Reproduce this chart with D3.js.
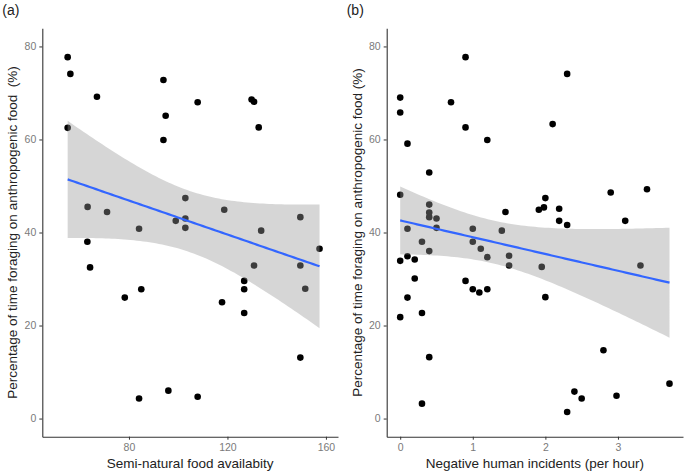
<!DOCTYPE html>
<html><head><meta charset="utf-8">
<script src="https://cdn.jsdelivr.net/npm/d3@7"></script>
<style>
body{margin:0;background:#fff;}
svg{display:block;font-family:"Liberation Sans",Arial,sans-serif;}
</style></head><body>
<svg id="chart" width="685" height="475"></svg>
<script>
// Panel (a): semi-natural food availability vs % time foraging on anthropogenic food
const foodX = [55.1,56.2,67.0,55.1,94.0,94.9,94.0,107.9,129.8,130.8,132.7,63.2,71.1,84.1,99.0,102.9,102.9,102.9,118.7,133.7,149.6,63.1,64.2,78.3,85.0,84.1,96.0,107.9,117.8,126.8,126.8,126.8,130.8,149.6,151.6,157.4,149.6];
const foodY = [77.7,74.1,69.2,62.5,72.8,65.1,59.9,68.0,68.6,68.1,62.6,45.5,44.4,40.8,42.5,47.4,43.0,41.0,44.9,40.4,43.3,38.0,32.5,26.0,27.8,4.3,6.0,4.7,25.0,29.6,27.8,22.7,32.9,32.9,27.9,36.5,13.1];
// Panel (b): negative human incidents per hour vs % time foraging on anthropogenic food
const incX = [0,0,0.10,0.40,0,0.90,0.70,0.90,1.20,2.30,2.10,0.40,0.40,0.40,0.50,0.50,0.10,1.00,1.40,1.45,1.91,1.98,2.00,2.19,2.19,2.30,2.90,3.10,3.40,0.30,0.40,0,0.10,0.20,0.20,0.10,0,0.30,0.40,0.30,1.00,1.11,1.20,1.50,1.50,1.95,0.90,1.00,1.09,1.20,2.00,3.31,2.80,2.30,2.40,2.50,2.98,3.71];
const incY = [69.0,65.8,59.1,52.9,48.1,77.7,68.0,62.6,59.9,74.1,63.3,46.0,44.3,43.3,43.0,41.0,40.8,40.8,40.4,44.4,44.9,45.4,47.4,45.1,42.5,41.6,48.6,42.5,49.3,38.0,36.0,33.9,34.9,34.2,30.1,26.0,21.8,22.7,13.2,3.2,38.0,36.5,34.7,35.0,32.9,32.6,29.6,27.8,27.1,27.8,26.1,32.9,14.7,1.4,5.8,4.3,4.9,7.5];

const yTicks = [0,20,40,60,80];
const foodTicks = [80,120,160];
const incTicks = [0,1,2,3];
const yLabel = "Percentage of time foraging on anthropogenic food";

const svg = d3.select("#chart");

// t quantile (0.975) approximation
function tq(df){
  const z=1.959964;
  return z + (z**3+z)/(4*df) + (5*z**5+16*z**3+3*z)/(96*df*df);
}

function panel(opts){
  const {xs, ys, xDomain, left, right, tag, xTicks, xTitle, yTitle, yTitleX} = opts;
  const top = 28.3, bottom = 436.7;
  const x = d3.scaleLinear().domain(xDomain).range([left, right]);
  const y = d3.scaleLinear().domain([-3.9, 83.9]).range([bottom, top]);
  const g = svg.append("g");

  // points
  const data = xs.map((v,i)=>({x:v,y:ys[i]}));
  g.selectAll("circle.pt").data(data).enter().append("circle")
    .attr("cx",d=>x(d.x)).attr("cy",d=>y(d.y)).attr("r",3.3).attr("fill","#000");

  // linear model + 95% CI
  const n = xs.length;
  const mx = d3.mean(xs), my = d3.mean(ys);
  let sxx=0, sxy=0;
  xs.forEach((v,i)=>{sxx+=(v-mx)**2; sxy+=(v-mx)*(ys[i]-my);});
  const b = sxy/sxx, a = my - b*mx;
  let sse=0; xs.forEach((v,i)=>{sse+=(ys[i]-(a+b*v))**2;});
  const s = Math.sqrt(sse/(n-2));
  const t = tq(n-2);
  const [x0,x1] = d3.extent(xs);
  const grid = d3.range(0,81).map(k=>x0+(x1-x0)*k/80);
  const fit = grid.map(v=>{
    const f=a+b*v, se=s*Math.sqrt(1/n+(v-mx)**2/sxx);
    return {x:v,f:f,lo:f-t*se,hi:f+t*se};
  });
  g.append("path").datum(fit)
    .attr("d", d3.area().x(d=>x(d.x)).y0(d=>y(d.lo)).y1(d=>y(d.hi)))
    .attr("fill","#999999").attr("fill-opacity",0.4);
  g.append("path").datum(fit)
    .attr("d", d3.line().x(d=>x(d.x)).y(d=>y(d.f)))
    .attr("fill","none").attr("stroke","#3366FF").attr("stroke-width",2.2);

  // axes
  const xa = g.append("g").attr("transform",`translate(0,${bottom})`)
    .call(d3.axisBottom(x).tickValues(xTicks).tickFormat(d3.format("d")).tickSize(3).tickPadding(4).tickSizeOuter(0));
  const ya = g.append("g").attr("transform",`translate(${left},0)`)
    .call(d3.axisLeft(y).tickValues(yTicks).tickFormat(d3.format("d")).tickSize(3).tickPadding(3).tickSizeOuter(0));
  [xa,ya].forEach(ax=>{
    ax.select(".domain").attr("stroke","#333").attr("stroke-width",1.1);
    ax.selectAll(".tick line").attr("stroke","#333");
    ax.selectAll(".tick text").attr("fill","#7a7a7a").style("font-size","10.5px")
      .style("font-family","'Liberation Sans',Arial,sans-serif");
  });

  g.append("text").attr("x",(left+right)/2).attr("y",468).attr("text-anchor","middle")
    .attr("fill","#222").style("font-size","13.5px").text(xTitle);
  g.append("text").attr("transform",`translate(${yTitleX},${(top+bottom)/2}) rotate(-90)`)
    .attr("text-anchor","middle").attr("fill","#222").style("font-size","13.5px")
    .style("white-space","pre").text(yTitle);
  g.append("text").attr("x",left-40).attr("y",15).attr("fill","#222")
    .style("font-size","14px").text(tag);
}

panel({xs:foodX, ys:foodY, xDomain:[44.8,164.9], left:42.3, right:338, tag:"(a)",
  xTicks:foodTicks, xTitle:"Semi-natural food availabity", yTitle:yLabel+"  (%)", yTitleX:17});
panel({xs:incX, ys:incY, xDomain:[-0.186,3.896], left:386.7, right:683, tag:"(b)",
  xTicks:incTicks, xTitle:"Negative human incidents (per hour)", yTitle:yLabel+" (%)", yTitleX:362});
</script>
</body></html>
